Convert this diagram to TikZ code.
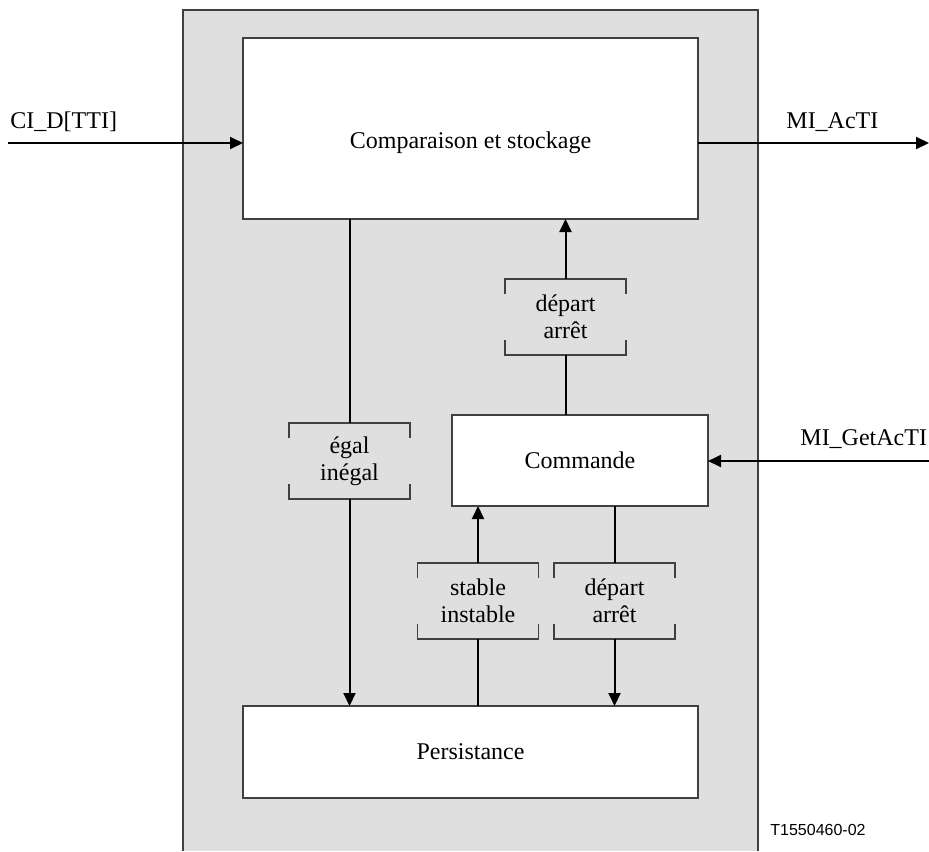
\documentclass[tikz,border=0pt]{standalone}
\usepackage{fontspec}
\setmainfont{Liberation Serif}
\newfontfamily\figsans{Liberation Sans}
\usetikzlibrary{arrows.meta, positioning, calc}
\definecolor{PanelGray}{HTML}{DFDFDF}
\definecolor{EdgeGray}{HTML}{404040}
\tikzset{
  blockbox/.style={draw=EdgeGray, line width=0.8pt, fill=white, inner sep=0pt, outer sep=0pt},
  tagbox/.style={align=center, minimum width=60.5pt, minimum height=38pt, inner sep=0pt, outer sep=0pt},
  siglabel/.style={anchor=base west, inner sep=0pt},
  sigline/.style={line width=1pt},
  sigarrow/.style={line width=1pt, -{Triangle[length=6.5pt,width=6pt]}},
  brk/.style={draw=EdgeGray, line width=0.6pt}
}
\newcommand{\tagbrackets}[1]{%
  \draw[brk] ([yshift=-7.5pt]#1.north west) -- (#1.north west) -- (#1.north east) -- ([yshift=-7.5pt]#1.north east);
  \draw[brk] ([yshift=7.5pt]#1.south west) -- (#1.south west) -- (#1.south east) -- ([yshift=7.5pt]#1.south east);
}

\begin{document}
\begin{tikzpicture}[x=0.5pt, y=-0.5pt, font=\fontsize{12}{13.5}\selectfont]
  \useasboundingbox (0,0) rectangle (929,851);
  % Panel
  \fill[PanelGray] (183,10) rectangle (758,851);
  \draw[EdgeGray, line width=1pt] (183,851) -- (183,10) -- (758,10) -- (758,851);

  % Blocks
  \node[blockbox, minimum width=227.5pt, minimum height=90.5pt] (comp) at (470.5,128.5) {};
  \node (compt) at ([yshift=-7.25pt]comp.center) {Comparaison et stockage};
  \node[blockbox, minimum width=128pt, minimum height=45.5pt] (cmd) at (580,460.5) {Commande};
  \node[blockbox, minimum width=227.5pt, minimum height=46pt] (pers) at (470.5,752) {Persistance};

  % Signal tags
  \node[tagbox] (egal) at (349.5,461) {égal\\inégal};
  \node[tagbox] (depA) at (565.5,317) {départ\\arrêt};
  \node[tagbox] (stab) at (478,601) {stable\\instable};
  \node[tagbox] (depB) at (614.5,601) {départ\\arrêt};
  \foreach \t in {egal,depA,stab,depB} {\tagbrackets{\t}}

  % Connectors
  \draw[sigline] (comp.south -| egal) -- (egal.north);
  \draw[sigarrow] (egal.south) -- (pers.north -| egal);
  \draw[sigline] (cmd.north -| depA) -- (depA.south);
  \draw[sigarrow] (depA.north) -- (comp.south -| depA);
  \draw[sigline] (pers.north -| stab) -- (stab.south);
  \draw[sigarrow] (stab.north) -- (cmd.south -| stab);
  \draw[sigline] (cmd.south -| depB) -- (depB.north);
  \draw[sigarrow] (depB.south) -- (pers.north -| depB);

  % External signals
  \coordinate (ciin) at (8,143);
  \coordinate (acout) at (929,143);
  \coordinate (getin) at (929,461);
  \draw[sigarrow] (ciin) -- (comp.west |- ciin);
  \draw[sigarrow] (comp.east |- acout) -- (acout);
  \draw[sigarrow] (getin) -- (cmd.east |- getin);
  \node[siglabel] (cilbl) at (10,128) {CI\textunderscore D[TTI]};
  \node[siglabel] (aclbl) at (786,128) {MI\textunderscore AcTI};
  \node[siglabel] (getlbl) at (800,445) {MI\textunderscore GetAcTI};
  \node[siglabel, font=\figsans\fontsize{8}{9}\selectfont] (figid) at (770,835) {T1550460-02};
\end{tikzpicture}
\end{document}
